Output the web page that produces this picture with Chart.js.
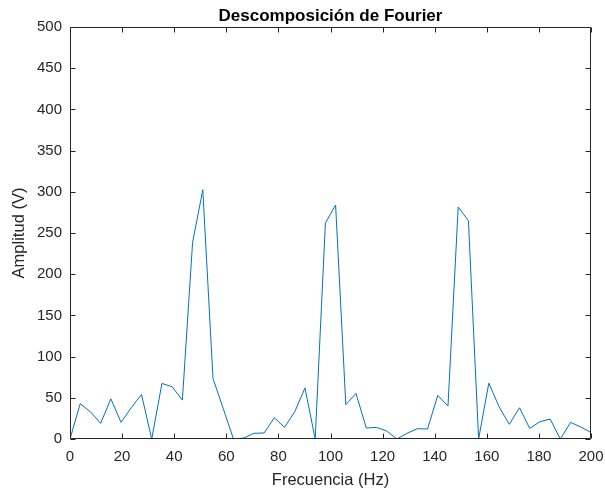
<!DOCTYPE html>
<html>
<head>
<meta charset="utf-8">
<script src="https://cdn.jsdelivr.net/npm/chart.js@4"></script>
<style>
  html, body { margin: 0; padding: 0; background: #ffffff; }
  #wrap { width: 605px; height: 492px; }
</style>
</head>
<body>
<div id="wrap"><canvas id="c" width="605" height="492"></canvas></div>
<script>
// Frequencies (Hz) of the spectrum samples
const frequencies = [
  0, 3.92, 7.84, 11.76, 15.69, 19.61, 23.53, 27.45, 31.37, 35.29,
  39.22, 43.14, 47.06, 50.98, 54.90, 58.82, 62.75, 66.67, 70.59, 74.51,
  78.43, 82.35, 86.27, 90.20, 94.12, 98.04, 101.96, 105.88, 109.80, 113.73,
  117.65, 121.57, 125.49, 129.41, 133.33, 137.25, 141.18, 145.10, 149.02, 152.94,
  156.86, 160.78, 164.71, 168.63, 172.55, 176.47, 180.39, 184.31, 188.24, 192.16,
  196.08, 200
];
// Amplitude (V)
const amplitudes = [
  0, 42.8, 33, 19, 48.8, 20.2, 38, 54, 0, 67.4,
  63.4, 47.2, 238.5, 302.5, 73.4, 37, 0, 1.2, 6.9, 7.3,
  25.8, 14.1, 33, 62, 0, 262, 284, 41.6, 55.3, 13.3,
  14.1, 9.7, 0, 6.9, 12.5, 12.1, 52.9, 40, 281.5, 265,
  0, 67.8, 39.1, 17.8, 37.9, 12.9, 21, 24.2, 0, 20.2,
  14.5, 8
];
const xTicks = [0, 20, 40, 60, 80, 100, 120, 140, 160, 180, 200];
const yTicks = [0, 50, 100, 150, 200, 250, 300, 350, 400, 450, 500];

const titleText = 'Descomposición de Fourier';
const xTitle = 'Frecuencia (Hz)';
const yTitle = 'Amplitud (V)';

const FONT = "'Liberation Sans', Arial, Helvetica, sans-serif";
const AXIS = '#262626';

const points = frequencies.map((f, i) => ({ x: f, y: amplitudes[i] }));

const boxPlugin = {
  id: 'matlabBox',
  afterDraw(chart) {
    const { ctx, chartArea: a, scales } = chart;
    ctx.save();
    ctx.strokeStyle = AXIS;
    ctx.lineWidth = 1;
    const L = a.left + 0.5, R = a.right - 0.5, T = a.top + 0.5, B = a.bottom - 0.5;
    ctx.beginPath();
    ctx.rect(L, T, R - L, B - T);
    ctx.stroke();
    const tl = 5;
    ctx.beginPath();
    xTicks.forEach(v => {
      const px = Math.round(scales.x.getPixelForValue(v)) + 0.5;
      ctx.moveTo(px, B); ctx.lineTo(px, B - tl);
      ctx.moveTo(px, T); ctx.lineTo(px, T + tl);
    });
    yTicks.forEach(v => {
      const py = Math.round(scales.y.getPixelForValue(v)) + 0.5;
      ctx.moveTo(L, py); ctx.lineTo(L + tl, py);
      ctx.moveTo(R, py); ctx.lineTo(R - tl, py);
    });
    ctx.stroke();
    // title
    ctx.fillStyle = '#000000';
    ctx.font = 'bold 17px ' + FONT;
    ctx.textAlign = 'center';
    ctx.textBaseline = 'middle';
    ctx.fillText(titleText, (a.left + a.right) / 2, 16);
    ctx.restore();
  }
};

new Chart(document.getElementById('c'), {
  type: 'line',
  data: {
    datasets: [{
      data: points,
      borderColor: '#0072BD',
      backgroundColor: '#0072BD',
      borderWidth: 1,
      pointRadius: 0,
      tension: 0,
      fill: false
    }]
  },
  options: {
    responsive: false,
    animation: false,
    devicePixelRatio: 1,
    layout: { padding: { left: 0, right: 14, top: 27, bottom: 0 } },
    plugins: { legend: { display: false }, title: { display: false }, tooltip: { enabled: false } },
    scales: {
      x: {
        type: 'linear',
        min: 0, max: 200,
        afterBuildTicks(scale) { scale.ticks = xTicks.map(v => ({ value: v })); },
        afterFit(scale) { scale.height = 53; scale.paddingLeft = 0; scale.paddingRight = 0; },
        grid: { display: false, drawTicks: false },
        border: { display: false },
        ticks: {
          color: AXIS, padding: 9,
          font: { family: FONT, size: 15 },
          maxRotation: 0, autoSkip: false
        },
        title: {
          display: true, text: xTitle, color: AXIS,
          font: { family: FONT, size: 16.5 },
          padding: { top: 0, bottom: 2 }
        }
      },
      y: {
        type: 'linear',
        min: 0, max: 500,
        afterBuildTicks(scale) { scale.ticks = yTicks.map(v => ({ value: v })); },
        afterFit(scale) { scale.width = 70; scale.paddingTop = 0; scale.paddingBottom = 0; },
        grid: { display: false, drawTicks: false },
        border: { display: false },
        ticks: {
          color: AXIS, padding: 8,
          font: { family: FONT, size: 15 },
          autoSkip: false
        },
        title: {
          display: true, text: yTitle, color: AXIS,
          font: { family: FONT, size: 16.5 },
          padding: { top: 10, bottom: 0 }
        }
      }
    }
  },
  plugins: [boxPlugin]
});
</script>
</body>
</html>
